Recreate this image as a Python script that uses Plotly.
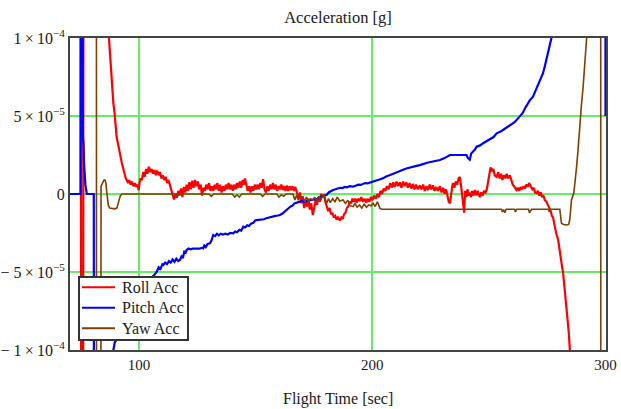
import plotly.graph_objects as go

SCALE = 1e-5  # values below are in units of 1e-5 g

roll_t = [70.4, 75.0, 75.2, 76.0, 76.2, 86.6,
          87.1, 87.6, 88.1, 88.6, 89.0, 89.5, 90.0, 90.4, 91.0, 91.6, 92.2, 92.6, 93.2, 93.8, 94.3, 94.7,
          95.3, 95.8, 96.4, 97.0, 97.6, 98.2, 98.8, 99.4, 99.8, 100.2, 100.6, 101.2, 101.8, 102.4, 103.0,
          103.6, 104.2, 104.8, 105.4, 106.0, 106.6, 107.2, 107.8, 108.4, 109.0, 109.6, 110.2, 110.8, 111.4,
          112.0, 112.6, 113.2, 113.8, 114.4, 115.0, 115.6, 116.2, 116.8, 117.4, 118.0, 118.6, 119.2, 119.8,
          120.4, 121.0, 121.6, 122.2, 122.8, 123.4, 124.0, 124.6, 125.2, 125.8, 126.4, 127.0, 127.6, 128.2,
          128.8, 129.4, 130.0, 130.6, 131.2, 131.8, 132.4, 133.0, 133.6, 134.2, 134.8, 135.4, 136.0, 136.6,
          137.2, 137.8, 138.4, 139.0, 139.6, 140.2, 140.8, 141.4, 142.0, 142.6, 143.2, 143.8, 144.4, 145.0,
          145.4, 146.0, 146.6, 147.2, 147.8, 148.4, 149.0, 149.6, 150.2, 150.8, 151.4, 152.0, 152.6, 153.2,
          153.8, 154.4, 155.0, 155.6, 156.2, 156.8, 157.4, 158.0, 158.6, 159.2, 159.8, 160.4, 161.0, 161.6,
          162.2, 162.8, 163.4, 164.0, 164.6, 165.2, 165.8, 166.4, 167.0, 167.7,
          168.3, 169.0, 169.6, 170.2, 170.8, 171.4, 172.0, 172.6, 173.2, 173.8, 174.5, 175.1, 175.7, 176.3,
          176.9, 177.5, 178.1, 178.7, 179.3, 179.9, 180.5, 181.1, 181.7, 182.3, 182.9, 183.5, 184.1, 184.7,
          185.3, 186.1, 186.7, 187.3, 187.9, 188.5, 189.1, 189.7, 190.3, 190.9, 191.5, 192.1, 192.7, 193.3,
          194.0, 194.7, 195.3, 196.0, 196.7, 197.4, 198.0, 198.7, 199.4, 200.1, 200.8, 201.5, 202.2, 202.9,
          203.5, 204.2, 204.9, 205.6, 206.3, 207.0, 207.7, 208.4, 209.0, 209.7, 210.4, 211.1, 211.8, 212.5,
          213.2, 213.9, 214.6, 215.3, 216.0, 216.7, 217.4, 218.1, 218.8, 219.5, 220.4, 221.1, 221.8, 222.5,
          223.2, 223.9, 224.6, 225.3, 226.0, 226.7, 227.4, 228.1, 229.0, 229.7, 230.4, 231.0, 231.6, 232.2,
          232.8, 233.3, 233.8, 234.3, 234.6, 235.2, 235.8, 236.4, 237.0, 237.5, 238.0, 238.5, 239.0, 239.4,
          239.8, 240.3, 240.8, 241.3, 241.8, 242.3, 242.8, 243.4, 244.0, 244.6, 245.2, 246.1, 246.7, 247.3,
          247.9, 248.5, 249.1, 249.7, 250.2, 250.7, 251.3, 251.9, 252.5, 253.3, 254.0, 254.6, 255.2, 255.8,
          256.4, 257.0, 257.6, 258.2, 259.0, 259.6, 260.2, 260.8, 261.4, 261.8, 262.4, 263.0, 263.6, 264.2,
          264.8, 265.4, 266.0, 266.6, 267.2, 267.5, 268.0, 268.6, 269.2, 269.8, 270.4, 271.0, 271.6, 272.2,
          272.8, 273.4, 274.0, 274.7, 275.3, 275.9, 276.5, 277.0, 277.5, 278.0, 278.5, 279.0, 279.7, 280.2,
          280.7, 281.2, 281.8, 282.3, 282.8, 283.3, 283.8, 284.2, 284.7, 285.0]
roll_v = [30, 30, -30, -30, 30, 30,
          10.0, 8.8, 7.6, 6.6, 5.8, 5.2, 4.2, 3.65, 3.2, 2.6, 2.3, 2.0, 1.6, 1.2, 1.0, 0.9,
          0.7, 0.9, 0.6, 0.8, 0.5, 0.7, 0.45, 0.6, 0.25, 0.7, 1.0, 0.9, 1.4, 1.1, 1.6,
          1.3, 1.75, 1.4, 1.6, 1.3, 1.55, 1.2, 1.5, 1.2, 1.4, 1.0, 1.2, 0.9, 1.1,
          0.7, 0.9, 0.6, 0.3, 0.1, -0.35, 0.0, -0.25, 0.2, -0.1, 0.35, -0.2, 0.45, 0.1,
          0.6, 0.2, 0.75, 0.3, 0.85, 0.4, 0.9, 0.5, 0.8, 0.3, 0.6, -0.1, 0.4, 0.2,
          0.6, 0.3, 0.7, 0.2, 0.5, 0.2, 0.6, 0.3, 0.7, 0.2, 0.6, 0.1, 0.5, 0.2,
          0.6, 0.3, 0.7, 0.3, 0.6, 0.2, 0.6, 0.3, 0.7, 0.4, 0.8, 0.4, 0.9, 0.6,
          1.0, 0.5, 0.2, 0.5, 0.1, 0.5, 0.2, 0.6, 0.3, 0.6, 0.3, 0.7, 0.4, 0.95,
          0.3, 0.1, 0.5, 0.2, 0.6, 0.3, 0.7, 0.3, 0.6, 0.2, 0.5, 0.3, 0.6, 0.25,
          0.5, 0.2, 0.55, 0.2, 0.5, 0.25, 0.5, 0.2, 0.45, 0.1,
          -0.3, 0.1, -0.6, -0.2, -0.9, -0.4, -0.8, -0.3, -1.0, -0.6, -1.35, -0.9, -0.4, -0.7,
          -0.2, -0.5, 0.0, -0.2, -0.05, -0.5, -0.8, -1.1, -0.9, -1.3, -1.2, -1.5, -1.4, -1.65,
          -1.5, -1.7, -1.5, -1.6, -1.3, -1.2, -0.9, -0.8, -0.5, -0.6, -0.3, -0.5, -0.3, -0.55,
          -0.3, -0.45, -0.2, -0.5, -0.3, -0.55, -0.3, -0.5, -0.2, -0.4, -0.1, -0.3, 0.0, -0.2,
          0.2, 0.0, 0.35, 0.2, 0.5, 0.3, 0.7, 0.4, 0.75, 0.45, 0.8, 0.5, 0.75, 0.4,
          0.8, 0.5, 0.75, 0.4, 0.7, 0.35, 0.65, 0.3, 0.6, 0.3, 0.55, 0.3, 0.6, 0.2,
          0.5, 0.25, 0.6, 0.3, 0.55, 0.2, 0.45, 0.2, 0.5, 0.1, 0.4, 0.0, 0.3, -0.2,
          -0.5, -0.6, 0.1, 0.5, 0.7, 0.4, 0.8, 0.6, 1.0, 1.1, 0.6, -0.2, -0.8, -1.2,
          0.2, -0.2, 0.3, -0.1, 0.1, -0.2, 0.2, -0.1, 0.25, -0.1, 0.2, -0.2, 0.1, -0.1,
          0.2, 0.1, 0.3, 0.8, 1.3, 1.7, 1.5, 1.6, 1.2, 1.1, 1.4, 1.0, 1.3, 0.9,
          1.2, 1.0, 1.3, 1.0, 1.2, 0.9, 0.6, 0.5, 0.3, 0.26, 0.4, 0.2, 0.45, 0.3,
          0.5, 0.35, 0.6, 0.45, 0.7, 0.6, 0.5, 0.3, 0.4, 0.1, 0.06, 0.2, -0.1, 0.1,
          -0.2, -0.1, -0.4, -0.5, -0.7, -0.9, -1.1, -1.4, -1.5, -1.9, -2.3, -2.6, -2.95, -3.6,
          -4.1, -4.5, -5.06, -5.8, -6.5, -7.24, -8.0, -8.8, -10.0, -30]

pitch_t = [70.4, 74.9, 75.0, 75.8, 75.9, 76.2, 76.4, 76.6, 76.8, 77.0, 77.3, 77.6, 80.6, 80.7, 88.6,
           89.0, 89.6, 90.4, 91.5, 93.0, 95.0, 97.0, 99.0, 101.0, 103.0, 105.0, 106.5, 107.6, 108.4,
           109.2, 110.0, 110.4, 111.2, 112.0, 112.8, 113.6, 114.4, 115.2, 116.0, 116.8, 117.5, 118.2,
           118.8, 119.4, 120.0, 120.4, 121.2, 122.0, 123.0, 124.0, 125.0, 126.0, 127.0, 127.5, 128.0,
           128.6, 129.4, 130.4, 131.0, 131.8, 132.6, 133.4, 134.2, 135.0, 136.0, 137.0, 138.0, 139.0,
           140.4, 141.2, 142.0, 143.0, 143.8, 144.7, 145.5, 146.4, 147.2, 148.0, 149.0, 149.8, 150.4,
           151.5, 152.5, 153.5, 154.5, 155.5, 156.5, 157.5, 158.5, 159.5, 160.4, 161.5, 162.5, 163.3,
           164.2, 165.0, 165.8, 166.6, 167.4, 168.2, 169.0, 170.0, 171.0, 172.0, 173.0, 174.0, 174.7,
           175.5, 176.5, 177.5, 178.5, 179.5, 180.4, 181.3, 182.2, 183.2, 184.2, 185.2, 186.2, 187.2,
           188.2, 189.2, 190.2, 191.8, 193.0, 194.0, 195.0, 196.0, 197.0, 198.0, 199.2, 200.4, 201.4,
           202.4, 203.4, 204.4, 205.4, 206.4, 207.4, 208.2, 209.0, 210.0, 211.0, 212.0, 213.0, 214.0,
           215.0, 216.0, 217.5, 219.0, 220.4, 222.0, 223.5, 225.0, 227.0, 229.0, 231.0, 233.3, 235.0,
           237.0, 239.0, 240.4, 241.0, 241.8, 242.4, 243.2, 244.0, 244.7, 246.0, 247.5, 249.0, 250.5,
           252.0, 253.3, 255.0, 256.5, 258.0, 259.5, 261.0, 262.2, 263.2, 264.5, 265.5, 266.5, 267.5,
           268.9, 270.0, 271.0, 272.2, 273.2, 274.0, 274.8, 275.5, 276.1, 276.8, 277.5, 299.85, 300.0]
pitch_v = [0, 0, 30, 30, 3.65, 3.2, 2.0, 1.4, 0.8, 0.6, 0.3, 0, 0, -30, -30,
           -10.0, -9.5, -9.36, -8.9, -8.4, -7.7, -7.0, -6.5, -6.1, -5.8, -5.4, -5.2, -4.98, -4.7,
           -4.8, -4.5, -4.55, -4.4, -4.5, -4.3, -4.4, -4.2, -4.35, -4.15, -4.3, -4.23, -4.0,
           -4.1, -3.7, -3.75, -3.59, -3.5, -3.55, -3.5, -3.5, -3.5, -3.5, -3.45, -3.48, -3.3,
           -3.4, -3.2, -3.16, -3.0, -2.63, -2.7, -2.55, -2.65, -2.55, -2.6, -2.55, -2.6, -2.5,
           -2.52, -2.4, -2.45, -2.3, -2.35, -2.1, -2.15, -2.0, -2.05, -1.9, -1.85, -1.7, -1.67,
           -1.65, -1.6, -1.62, -1.55, -1.5, -1.45, -1.45, -1.4, -1.38, -1.35, -1.25, -1.1, -1.03,
           -0.9, -0.8, -0.75, -0.6, -0.55, -0.5, -0.49, -0.45, -0.5, -0.42, -0.4, -0.4, -0.38,
           -0.35, -0.3, -0.2, -0.15, -0.1, -0.06, 0.1, 0.2, 0.26, 0.3, 0.35, 0.4, 0.38,
           0.45, 0.42, 0.5, 0.47, 0.55, 0.6, 0.58, 0.65, 0.7, 0.68, 0.75, 0.79, 0.85,
           0.9, 0.95, 1.0, 1.1, 1.15, 1.2, 1.25, 1.33, 1.4, 1.45, 1.5, 1.55, 1.6,
           1.65, 1.7, 1.75, 1.8, 1.85, 1.95, 2.0, 2.05, 2.1, 2.18, 2.3, 2.5, 2.5,
           2.5, 2.5, 2.5, 2.3, 2.2, 2.6, 2.7, 2.85, 3.03, 3.1, 3.25, 3.4, 3.5,
           3.65, 3.89, 4.0, 4.15, 4.3, 4.45, 4.6, 4.8, 4.96, 5.2, 5.5, 5.8, 6.0,
           6.24, 6.6, 7.0, 7.4, 7.74, 8.2, 8.7, 9.1, 9.44, 10.0, 12.0, 30, 5.0]

yaw_t = [70.4, 81.7, 81.8, 83.6, 83.7, 84.0, 84.4, 85.0, 85.4, 85.8, 86.1, 86.4, 86.8, 87.4, 88.5,
         89.5, 90.5, 91.0, 91.5, 92.0, 92.7, 130.0, 131.0, 132.0, 140.0, 141.0, 142.0, 143.0, 144.0,
         152.0, 153.0, 154.0, 159.0, 160.0, 161.0, 162.0, 163.0, 166.0, 166.8, 167.5, 168.3, 169.0,
         170.3, 171.0, 171.8, 172.6, 173.5, 174.5, 175.3, 176.2, 177.0, 178.0, 179.0, 179.6, 180.4,
         181.2, 182.0, 183.0, 184.0, 185.0, 186.0, 187.5, 188.5, 189.5, 190.5, 191.8, 192.6, 193.5,
         194.5, 195.5, 196.5, 197.5, 198.5, 199.5, 200.4, 201.2, 202.2, 203.3, 204.0, 255.4, 255.8,
         256.3, 256.8, 257.4, 261.0, 261.4, 261.9, 267.0, 267.4, 267.9, 268.3, 275.5, 275.9, 276.4,
         280.4, 281.1, 282.0, 283.3, 284.2, 284.7, 285.4, 286.4, 287.0, 287.6, 288.2, 289.0, 289.6,
         290.4, 291.0, 291.4, 291.9, 292.2, 297.9, 298.0, 300.5]
yaw_v = [30, 30, -30, -30, 0.5, 0.6, 0.8, 0.9, 0.9, 0.7, 0.2, -0.4, -0.7, -0.9, -0.95,
         -0.95, -0.9, -0.6, -0.3, -0.1, 0, 0, -0.15, 0, 0, -0.2, -0.05, -0.2, 0,
         0, -0.15, 0, 0, -0.2, -0.05, -0.15, 0, 0, -0.38, -0.1, -0.4, -0.2,
         -0.17, -0.5, -0.2, -0.45, -0.3, -0.4, -0.2, -0.45, -0.15, -0.35, -0.06, -0.2, -0.6,
         -0.3, -0.55, -0.3, -0.5, -0.2, -0.45, -0.38, -0.6, -0.4, -0.75, -0.81, -0.6, -0.85,
         -0.7, -0.9, -0.65, -0.85, -0.7, -0.75, -0.6, -0.8, -0.5, -0.92, -0.98, -0.98, -1.15,
         -1.0, -1.2, -0.98, -0.98, -1.15, -0.98, -0.98, -1.2, -1.05, -0.98, -0.98, -1.15, -0.98,
         -0.98, -1.88, -1.95, -1.99, -1.95, -1.6, -0.38, 0.06, 0.8, 1.75, 2.8, 4.74, 5.6,
         6.88, 8.0, 9.02, 10.0, 30, 30, -30, -30]

series_names = ["Roll Acc", "Pitch Acc", "Yaw Acc"]
series_colors = ["#ff0000", "#0000ff", "#804000"]

x_ticks = [100, 200, 300]
x_ticktext = ["100", "200", "300"]
y_ticks = [-1e-4, -5e-5, 0, 5e-5, 1e-4]
y_ticktext = ["\u2212 1\u2009\u00d7\u200910<sup>\u22124</sup>", "\u2212 5\u2009\u00d7\u200910<sup>\u22125</sup>", "0",
              "5\u2009\u00d7\u200910<sup>\u22125</sup>", "1\u2009\u00d7\u200910<sup>\u22124</sup>"]

FONT = "Liberation Serif, Times New Roman, serif"
TXT = "#1a1a1a"

fig = go.Figure()
for name, color, tt, vv, w in [
    (series_names[0], series_colors[0], roll_t, roll_v, 2.2),
    (series_names[1], series_colors[1], pitch_t, pitch_v, 2.2),
    (series_names[2], series_colors[2], yaw_t, yaw_v, 1.6),
]:
    fig.add_trace(go.Scatter(x=tt, y=[v * SCALE for v in vv], mode="lines", name=name,
                             line=dict(color=color, width=w), showlegend=False))

fig.update_layout(
    width=621, height=409,
    margin=dict(l=70, r=15, t=38, b=59),
    paper_bgcolor="white", plot_bgcolor="white",
    font=dict(family=FONT, size=15, color=TXT),
    title=dict(text="Acceleration [g]", x=0.5, xref="paper", xanchor="center",
               y=0.958, yref="container", yanchor="middle",
               font=dict(family=FONT, size=16.5, color=TXT)),
    showlegend=False,
)
fig.update_xaxes(range=[70.4, 300.2], tickvals=x_ticks, ticktext=x_ticktext,
                 showgrid=True, gridcolor="#66ee66", gridwidth=1.5, automargin=False,
                 showline=True, linecolor="#444", linewidth=2, mirror=True,
                 ticks="", zeroline=False, tickfont=dict(family=FONT, size=15, color=TXT))
fig.update_yaxes(range=[-1e-4, 1e-4], tickvals=y_ticks, ticktext=y_ticktext,
                 showgrid=True, gridcolor="#66ee66", gridwidth=1.5, automargin=False,
                 showline=True, linecolor="#444", linewidth=2, mirror=True,
                 ticks="", zeroline=False, tickfont=dict(family=FONT, size=16, color=TXT))
fig.add_annotation(text="Flight Time [sec]", x=0.5, xref="paper", y=-0.157, yref="paper",
                   xanchor="center", yanchor="middle", showarrow=False,
                   font=dict(family=FONT, size=16, color=TXT))

# legend box (drawn as shapes + text, placed in paper coordinates)
fig.add_shape(type="rect", xref="paper", yref="paper", x0=0.0168, x1=0.2201, y0=0.032, y1=0.234,
              fillcolor="white", line=dict(color="#333", width=2), layer="above")
legend_y = [0.201, 0.1356, 0.0696]
for name, color, ly in zip(series_names, series_colors, legend_y):
    fig.add_shape(type="line", xref="paper", yref="paper", x0=0.0224, x1=0.0840, y0=ly, y1=ly,
                  line=dict(color=color, width=2), layer="above")
    fig.add_annotation(text=name, x=0.0925, xref="paper", y=ly, yref="paper",
                       xanchor="left", yanchor="middle", showarrow=False,
                       font=dict(family=FONT, size=16, color=TXT))

fig.write_html("out.html")
